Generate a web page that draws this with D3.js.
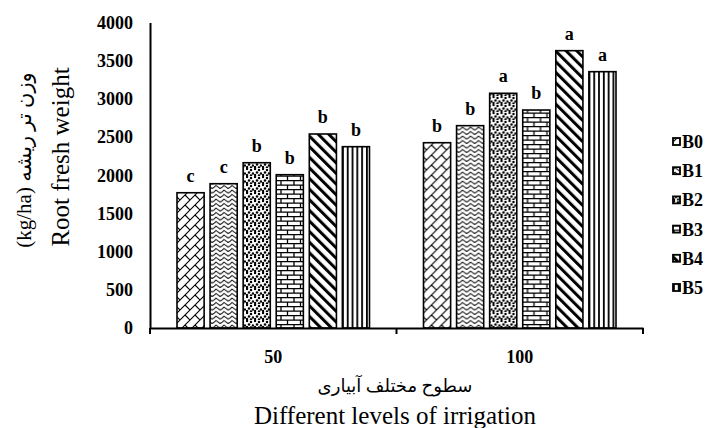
<!DOCTYPE html>
<html>
<head>
<meta charset="utf-8">
<script src="https://cdn.jsdelivr.net/npm/d3@7"></script>
<style>
  body { margin: 0; background: #fff; }
  svg { display: block; }
  text { font-family: "Liberation Serif", "DejaVu Sans", serif; fill: #000; }
</style>
</head>
<body>
<div class="canvas"></div>
<script>
// data
const levels = ['50', '100'];
const series = ['B0', 'B1', 'B2', 'B3', 'B4', 'B5'];
const values50 = [1771, 1889, 2164, 2007, 2540, 2374];
const values100 = [2426, 2649, 3073, 2854, 3631, 3356];
const letters50 = ['c', 'c', 'b', 'b', 'b', 'b'];
const letters100 = ['b', 'b', 'a', 'b', 'a', 'a'];
const yTicks = [0, 500, 1000, 1500, 2000, 2500, 3000, 3500, 4000];

const rows = [
    { level: levels[0], values: values50, letters: letters50 },
    { level: levels[1], values: values100, letters: letters100 }
];

const dims = { width: 710, height: 428 };
const plot = { left: 150, right: 643, top: 22.5, bottom: 328 };

const svg = d3.select('.canvas')
    .append('svg')
    .attr('width', dims.width)
    .attr('height', dims.height);

// hatch patterns, one per series
const defs = svg.append('defs');

const pat = (id, w, h, transform) => {
    const p = defs.append('pattern')
        .attr('id', id)
        .attr('patternUnits', 'userSpaceOnUse')
        .attr('width', w)
        .attr('height', h);
    if (transform) p.attr('patternTransform', transform);
    p.append('rect').attr('width', w).attr('height', h).attr('fill', '#fff');
    return p;
};

// B0 diagonal brick
pat('pB0', 10, 10).append('path')
    .attr('d', 'M0,10 L10,0 M5,5 L10,10 M-1,1 L1,-1 M9,11 L11,9')
    .attr('stroke', '#000').attr('stroke-width', 1.1).attr('fill', 'none');

// B1 wave
pat('pB1', 8, 4.5).append('path')
    .attr('d', 'M0,3 L2,1 L6,4 L8,3')
    .attr('stroke', '#000').attr('stroke-width', 1).attr('fill', 'none');

// B2 dots
const dotPat = pat('pB2', 8, 8);
[[1, 1], [5, 2], [3, 4.5], [7, 5.5], [1, 7], [5, 7.5]].forEach(([cx, cy]) => {
    dotPat.append('circle').attr('cx', cx).attr('cy', cy).attr('r', 1.25).attr('fill', '#000');
});

// B3 horizontal brick
pat('pB3', 13, 9).append('path')
    .attr('d', 'M0,0.6 H13 M0,5.1 H13 M1,0 V5 M7.5,5 V9')
    .attr('stroke', '#000').attr('stroke-width', 1.3).attr('fill', 'none');

// B4 wide downward diagonal
pat('pB4', 7.5, 7.5, 'rotate(-45)').append('rect')
    .attr('x', 0).attr('y', 0).attr('width', 3).attr('height', 7.5).attr('fill', '#000');

// B5 wide vertical
pat('pB5', 4.8, 4).append('rect')
    .attr('x', 0).attr('y', 0).attr('width', 1.8).attr('height', 4).attr('fill', '#000');

// scales
const x0 = d3.scaleBand()
    .domain(levels)
    .range([plot.left, plot.right])
    .padding(0);

const x1 = d3.scaleBand()
    .domain(series)
    .range([27, x0.bandwidth() - 27])
    .paddingInner(0.18)
    .paddingOuter(0);

const y = d3.scaleLinear()
    .domain([0, 4000])
    .range([plot.bottom, plot.top]);

// y axis
const yAxis = d3.axisLeft(y)
    .tickValues(yTicks)
    .tickFormat(d3.format('d'))
    .tickSize(0)
    .tickPadding(17);

const yG = svg.append('g')
    .attr('transform', `translate(${plot.left}, 0)`)
    .call(yAxis);
yG.select('.domain').attr('stroke', '#000').attr('stroke-width', 2);
yG.selectAll('text')
    .attr('font-weight', 'bold')
    .attr('font-size', 18);

// bars
const groups = svg.append('g').selectAll('g')
    .data(rows)
    .join('g')
    .attr('transform', d => `translate(${x0(d.level)}, 0)`);

groups.selectAll('rect')
    .data(d => d.values.map((v, i) => ({ key: series[i], value: v, letter: d.letters[i] })))
    .join('rect')
    .attr('x', d => x1(d.key))
    .attr('y', d => y(d.value))
    .attr('width', x1.bandwidth())
    .attr('height', d => y(0) - y(d.value))
    .attr('fill', d => `url(#p${d.key})`)
    .attr('stroke', '#000')
    .attr('stroke-width', 1.6);

// significance letters
groups.selectAll('text.letter')
    .data(d => d.values.map((v, i) => ({ key: series[i], value: v, letter: d.letters[i] })))
    .join('text')
    .attr('class', 'letter')
    .attr('x', d => x1(d.key) + x1.bandwidth() / 2)
    .attr('y', d => y(d.value) - 11)
    .attr('text-anchor', 'middle')
    .attr('font-weight', 'bold')
    .attr('font-size', 18)
    .text(d => d.letter);

// x axis
const xAxis = d3.axisBottom(x0)
    .tickSize(0)
    .tickPadding(22);

const xG = svg.append('g')
    .attr('transform', `translate(0, ${plot.bottom})`)
    .call(xAxis);
xG.select('.domain').attr('stroke', '#000').attr('stroke-width', 2);
xG.selectAll('text')
    .attr('font-weight', 'bold')
    .attr('font-size', 18);

// category boundary ticks
const bounds = levels.map(d => x0(d)).concat([x0.range()[1]]);
xG.selectAll('line.bound')
    .data(bounds)
    .join('line')
    .attr('class', 'bound')
    .attr('x1', d => d).attr('x2', d => d)
    .attr('y1', 0).attr('y2', 6)
    .attr('stroke', '#000').attr('stroke-width', 2);

// axis titles
svg.append('text')
    .attr('x', 395)
    .attr('y', 392)
    .attr('text-anchor', 'middle')
    .attr('font-size', 18)
    .text('سطوح مختلف آبیاری');

svg.append('text')
    .attr('x', 395)
    .attr('y', 424)
    .attr('text-anchor', 'middle')
    .attr('font-size', 25)
    .text('Different levels of irrigation');

const yTitle = svg.append('g')
    .attr('transform', 'translate(0, 160) rotate(-90)');

yTitle.append('text')
    .attr('x', 0)
    .attr('y', 31)
    .attr('text-anchor', 'middle')
    .attr('font-size', 21)
    .text('(kg/ha) وزن تر ریشه');

yTitle.append('text')
    .attr('x', 3)
    .attr('y', 69)
    .attr('text-anchor', 'middle')
    .attr('font-size', 25)
    .text('Root fresh weight');

// legend
const legend = svg.append('g')
    .attr('transform', 'translate(673, 142)');

const items = legend.selectAll('g')
    .data(series)
    .join('g')
    .attr('transform', (d, i) => `translate(0, ${i * 29.2})`);

items.append('rect')
    .attr('x', 0).attr('y', -4)
    .attr('width', 7).attr('height', 7)
    .attr('fill', d => `url(#p${d})`)
    .attr('stroke', '#000')
    .attr('stroke-width', 1.8);

items.append('text')
    .attr('x', 9)
    .attr('y', 6)
    .attr('font-weight', 'bold')
    .attr('font-size', 18)
    .text(d => d);
</script>
</body>
</html>
